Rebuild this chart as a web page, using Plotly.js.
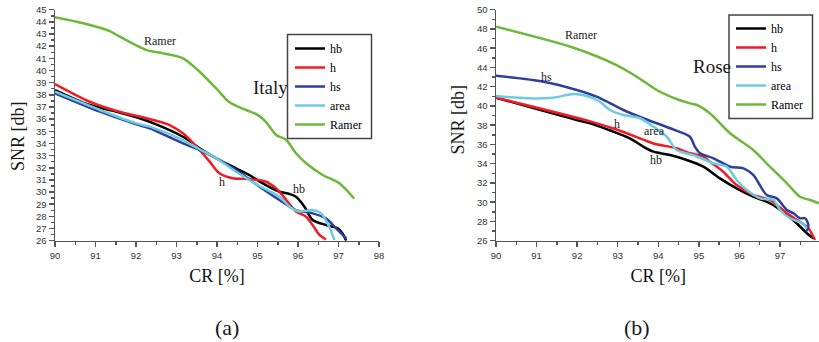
<!DOCTYPE html>
<html>
<head>
<meta charset="utf-8">
<script src="https://cdn.plot.ly/plotly-3.0.1.min.js"></script>
<style>
html,body{margin:0;padding:0;overflow:hidden;background:#fff;width:819px;height:342px;}
#chart{width:823px;height:342px;}
</style>
</head>
<body>
<div id="chart"></div>
<script>
// ---------- Panel (a): Italy ----------
const itHbX = [90, 90.86, 91.52, 92.09, 92.5, 93.16, 93.57, 93.98, 94.47, 94.8, 95.13, 95.54, 95.79, 95.95, 96.16, 96.36, 96.69, 96.98, 97.1, 97.19];
const itHbY = [38.39, 37.16, 36.61, 36.07, 35.57, 34.55, 33.6, 32.78, 31.95, 31.4, 30.72, 30.03, 29.84, 29.62, 28.8, 27.7, 27.29, 27.02, 26.6, 26.0];
const itHX = [90, 90.86, 91.52, 92.26, 92.67, 92.83, 93.16, 93.57, 93.82, 94.06, 94.39, 94.8, 95.21, 95.46, 95.71, 95.95, 96.2, 96.36, 96.53, 96.69];
const itHY = [38.89, 37.43, 36.67, 36.07, 35.7, 35.51, 34.83, 33.46, 32.5, 31.54, 31.13, 31.07, 30.85, 30.3, 29.35, 28.4, 27.97, 27.29, 26.47, 26.1];
const itHsX = [90, 91.11, 92.01, 92.34, 93.16, 93.57, 93.98, 94.47, 95.05, 95.54, 95.95, 96.36, 96.69, 96.94, 97.19];
const itHsY = [38.12, 36.61, 35.57, 35.24, 34.0, 33.46, 32.78, 31.81, 30.44, 29.35, 28.52, 28.25, 27.84, 27.02, 26.2];
const itAreaX = [90, 91.11, 92.01, 92.34, 93.16, 93.57, 93.98, 94.47, 95.05, 95.54, 95.79, 96.03, 96.36, 96.57, 96.77, 96.9];
const itAreaY = [38.25, 36.75, 35.65, 35.38, 34.28, 33.52, 32.78, 31.67, 30.5, 29.62, 28.8, 28.4, 28.52, 28.25, 27.15, 26.05];
const itRamerX = [90, 90.7, 91.35, 91.6, 92.26, 92.67, 93.16, 93.57, 93.98, 94.3, 94.72, 95.0, 95.2, 95.46, 95.71, 95.95, 96.2, 96.61, 97.02, 97.39];
const itRamerY = [44.38, 43.88, 43.24, 42.78, 41.68, 41.41, 41.0, 39.9, 38.53, 37.4, 36.75, 36.35, 35.8, 34.7, 34.28, 33.19, 32.37, 31.4, 30.72, 29.45];

// ---------- Panel (b): Rose ----------
const roHbX = [90, 91.99, 92.32, 92.97, 93.3, 93.63, 93.88, 94.29, 94.7, 95.11, 95.52, 95.93, 96.34, 96.75, 97.17, 97.41, 97.66, 97.82];
const roHbY = [40.86, 38.54, 38.2, 37.2, 36.64, 35.77, 35.25, 34.9, 34.38, 33.69, 32.48, 31.44, 30.57, 29.89, 28.67, 27.81, 26.77, 26.25];
const roHX = [90, 92.32, 92.97, 93.63, 93.88, 94.45, 94.7, 95.11, 95.27, 95.6, 95.93, 96.34, 96.75, 97.17, 97.49, 97.7, 97.86];
const roHY = [40.86, 38.4, 37.55, 36.5, 36.1, 35.6, 35.2, 34.73, 34.21, 33.17, 31.79, 30.75, 30.23, 28.85, 27.97, 27.29, 26.07];
const roHsX = [90, 91.17, 91.99, 92.48, 93.14, 93.63, 94.29, 94.78, 94.9, 95.03, 95.36, 95.77, 96.1, 96.34, 96.67, 96.92, 97.17, 97.33, 97.49, 97.62, 97.7, 97.66];
const roHsY = [43.14, 42.52, 41.66, 40.96, 39.58, 38.72, 37.68, 36.8, 35.77, 35.08, 34.56, 33.69, 33.52, 32.83, 30.75, 30.4, 29.19, 28.85, 28.33, 28.33, 27.6, 27.0];
const roAreaX = [90, 90.76, 91.41, 91.91, 92.24, 92.56, 92.81, 93.14, 93.55, 93.88, 94.21, 94.45, 94.86, 95.36, 95.69, 95.93, 96.18, 96.51, 96.84, 97.0, 97.25, 97.54, 97.66];
const roAreaY = [41.03, 40.79, 40.86, 41.24, 41.03, 40.44, 39.58, 39.06, 38.72, 37.84, 36.8, 35.42, 34.9, 34.04, 33.69, 32.31, 31.27, 30.4, 30.23, 29.19, 28.33, 27.81, 27.29];
const roRamerX = [90, 91.91, 92.97, 93.47, 93.96, 94.45, 94.78, 94.95, 95.27, 95.77, 96.34, 96.75, 97.17, 97.49, 97.74, 97.96];
const roRamerY = [48.23, 46.05, 44.25, 43.04, 41.66, 40.72, 40.27, 40.1, 39.24, 37.16, 35.42, 33.69, 31.96, 30.57, 30.23, 29.89];

const seriesNames = ["hb", "h", "hs", "area", "Ramer"];
const seriesColors = ["#000000", "#ee1c24", "#2e3f9c", "#6ccbe0", "#6cb83a"];

const W = 823, H = 342;
const px = v => v / W;
const py = v => 1 - v / H;

const itData = [[itHbX, itHbY], [itHX, itHY], [itHsX, itHsY], [itAreaX, itAreaY], [itRamerX, itRamerY]];
const roData = [[roHbX, roHbY], [roHX, roHY], [roHsX, roHsY], [roAreaX, roAreaY], [roRamerX, roRamerY]];

const traces = [];
itData.forEach((d, i) => traces.push({
  x: d[0], y: d[1], name: seriesNames[i], type: "scatter", mode: "lines",
  line: {color: seriesColors[i], width: 2.5, shape: "spline", smoothing: 0.8},
  xaxis: "x", yaxis: "y", legend: "legend"
}));
roData.forEach((d, i) => traces.push({
  x: d[0], y: d[1], name: seriesNames[i], type: "scatter", mode: "lines",
  line: {color: seriesColors[i], width: 2.5, shape: "spline", smoothing: 0.8},
  xaxis: "x2", yaxis: "y2", legend: "legend2"
}));

const SERIF = "Liberation Serif";
const tickFont = {family: "Liberation Sans", size: 9.5, color: "#333"};
const axisCommon = {
  showgrid: false, zeroline: false, showline: true, linecolor: "#555", linewidth: 1.5,
  ticks: "outside", ticklen: 5, tickwidth: 1.5, tickcolor: "#555", tickfont: tickFont,
  automargin: false, fixedrange: true
};
const minorX = {dtick: 0.5, ticks: "outside", ticklen: 3, tickcolor: "#555", tickwidth: 1.5};
const yDom = [py(240.7), py(9.7)];

function legendOpts(x, y) {
  return {
    font: {family: SERIF, size: 12, color: "#000"},
    bgcolor: "rgba(0,0,0,0)", borderwidth: 0, xanchor: "left", yanchor: "top",
    itemwidth: 30, tracegroupgap: 0, x: x, y: y
  };
}
function ann(text, xref, yref, x, y, size) {
  return {text: text, xref: xref, yref: yref, x: x, y: y, showarrow: false,
          xanchor: "center", yanchor: "middle",
          font: {family: SERIF, size: size, color: "#1a1a1a"}};
}

const layout = {
  width: W, height: H,
  margin: {l: 0, r: 0, t: 0, b: 0},
  font: {family: SERIF},
  paper_bgcolor: "#fff", plot_bgcolor: "rgba(0,0,0,0)",
  showlegend: true,
  xaxis: Object.assign({}, axisCommon, {
    domain: [px(55), px(379)], range: [90, 98], dtick: 1, anchor: "y", minor: minorX,
    title: {text: "CR [%]", font: {family: SERIF, size: 18, color: "#111"}, standoff: 10}
  }),
  yaxis: Object.assign({}, axisCommon, {
    domain: yDom, range: [26, 45], dtick: 1, anchor: "x",
    minor: {dtick: 0.5, ticks: "outside", ticklen: 3, tickcolor: "#555", tickwidth: 1.5}
  }),
  xaxis2: Object.assign({}, axisCommon, {
    domain: [px(496), px(820.6)], range: [90, 98], dtick: 1, anchor: "y2", minor: minorX,
    title: {text: "CR [%]", font: {family: SERIF, size: 18, color: "#111"}, standoff: 10}
  }),
  yaxis2: Object.assign({}, axisCommon, {
    domain: yDom, range: [26, 50], dtick: 2, anchor: "x2",
    minor: {dtick: 1, ticks: "outside", ticklen: 3, tickcolor: "#555", tickwidth: 1.5}
  }),
  legend: legendOpts(px(290), py(34)),
  legend2: legendOpts(px(731), py(14)),
  shapes: [
    {type: "rect", xref: "paper", yref: "paper", x0: px(287.5), x1: px(371.5), y0: py(138.5), y1: py(34.5),
     line: {color: "#444", width: 1.5}, fillcolor: "#fff", layer: "above"},
    {type: "rect", xref: "paper", yref: "paper", x0: px(729), x1: px(812.5), y0: py(118.5), y1: py(15),
     line: {color: "#444", width: 1.5}, fillcolor: "#fff", layer: "above"}
  ],
  annotations: [
    Object.assign(ann("SNR [db]", "paper", "paper", px(18), py(136), 18), {textangle: -90}),
    Object.assign(ann("SNR [db]", "paper", "paper", px(457.5), py(119), 18), {textangle: -90}),
    ann("(a)", "paper", "paper", px(227), py(327), 22),
    ann("(b)", "paper", "paper", px(637), py(327), 22),
    ann("Ramer", "x", "y", 92.59, 42.42, 12),
    ann("h", "x", "y", 94.13, 30.85, 12),
    ann("hb", "x", "y", 96.03, 30.23, 12),
    ann("Italy", "x", "y", 95.31, 38.64, 19),
    ann("Ramer", "x2", "y2", 92.09, 47.37, 12),
    ann("hs", "x2", "y2", 91.25, 42.98, 12),
    ann("h", "x2", "y2", 92.99, 38.12, 12),
    ann("area", "x2", "y2", 93.9, 37.43, 12),
    ann("hb", "x2", "y2", 93.94, 34.38, 12),
    ann("Rose", "x2", "y2", 95.33, 44.15, 19)
  ]
};

Plotly.newPlot("chart", traces, layout, {displayModeBar: false, staticPlot: true});
</script>
</body>
</html>
